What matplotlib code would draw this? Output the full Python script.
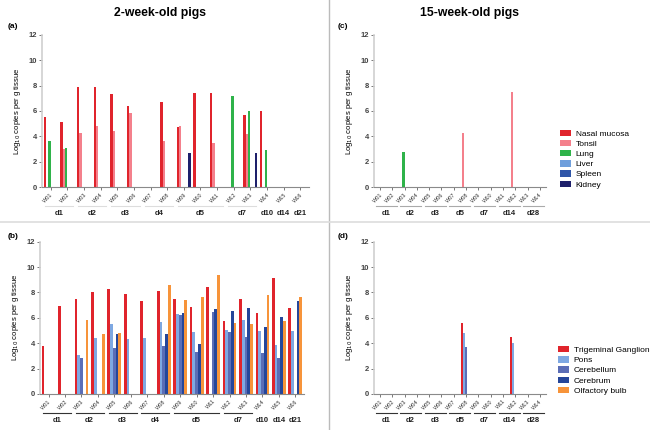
import numpy as np
import matplotlib
matplotlib.use("Agg")
import matplotlib.pyplot as plt
from matplotlib.patches import Patch
from matplotlib.lines import Line2D
import matplotlib.transforms as mtransforms

# pigs and day groups
pigs_2wk = ['W%02d' % i for i in range(1, 17)]
days_2wk = ['d1', 'd2', 'd3', 'd4', 'd5', 'd7', 'd10', 'd14', 'd21']
day_sizes_2wk = [2, 2, 2, 2, 3, 2, 1, 1, 1]

pigs_15wk = ['W%02d' % i for i in range(1, 15)]
days_15wk = ['d1', 'd2', 'd3', 'd5', 'd7', 'd14', 'd28']
day_sizes_15wk = [2, 2, 2, 2, 2, 2, 2]

# (a) 2-week-old, systemic tissues
tissues_resp = ['Nasal mucosa', 'Tonsil', 'Lung', 'Liver', 'Spleen', 'Kidney']
colors_resp = ['#e0242c', '#f4808c', '#2fb34a', '#6f9fdc', '#2f55a8', '#1e206b']
a_nasal = [5.5, 5.1, 7.9, 7.9, 7.3, 6.4, 0, 6.7, 4.7, 7.4, 7.4, 0, 5.7, 6.0, 0, 0]
a_tonsil = [0, 3.0, 4.3, 4.8, 4.4, 5.8, 0, 3.6, 4.8, 0, 3.5, 0, 4.2, 0, 0, 0]
a_lung = [3.6, 3.1, 0, 0, 0, 0, 0, 0, 0, 0, 0, 7.2, 6.0, 2.9, 0, 0]
a_liver = [0] * 16
a_spleen = [0] * 16
a_kidney = [0, 0, 0, 0, 0, 0, 0, 0, 2.7, 0, 0, 0, 2.7, 0, 0, 0]

# (c) 15-week-old, systemic tissues
c_nasal = [0] * 14
c_tonsil = [0, 0, 0, 0, 0, 0, 0, 4.3, 0, 0, 0, 7.5, 0, 0]
c_lung = [0, 0, 2.8, 0, 0, 0, 0, 0, 0, 0, 0, 0, 0, 0]
c_liver = [0] * 14
c_spleen = [0] * 14
c_kidney = [0] * 14

# (b) 2-week-old, nervous tissues
tissues_cns = ['Trigeminal Ganglion', 'Pons', 'Cerebellum', 'Cerebrum', 'Olfactory bulb']
colors_cns = ['#e0242c', '#7ea8e2', '#5b6db6', '#25469a', '#f7943a']
b_tg = [3.8, 6.9, 7.5, 8.0, 8.3, 7.9, 7.35, 8.1, 7.45, 6.85, 8.4, 5.75, 7.5, 6.4, 9.15, 6.75]
b_pons = [0, 0, 3.1, 4.4, 5.5, 4.3, 4.4, 5.7, 6.3, 4.85, 0, 5.0, 5.8, 4.95, 3.85, 4.95]
b_cerebellum = [0, 0, 2.8, 0, 3.6, 0, 0, 3.8, 6.2, 3.3, 6.45, 4.9, 4.5, 3.2, 2.8, 0]
b_cerebrum = [0, 0, 0, 0, 4.7, 0, 0, 4.7, 6.35, 3.9, 6.7, 6.55, 6.75, 5.25, 6.05, 7.35]
b_olfactory = [0, 0, 5.8, 4.7, 4.8, 0, 0, 8.55, 7.4, 7.65, 9.4, 5.6, 5.5, 7.8, 5.75, 7.6]

# (d) 15-week-old, nervous tissues
d_tg = [0, 0, 0, 0, 0, 0, 0, 5.6, 0, 0, 0, 4.5, 0, 0]
d_pons = [0, 0, 0, 0, 0, 0, 0, 4.8, 0, 0, 0, 4.0, 0, 0]
d_cerebellum = [0, 0, 0, 0, 0, 0, 0, 3.7, 0, 0, 0, 0, 0, 0]
d_cerebrum = [0] * 14
d_olfactory = [0] * 14

plt.rcParams['font.family'] = ['Liberation Sans', 'DejaVu Sans']

fig = plt.figure(figsize=(6.5, 4.3), dpi=100)


def draw_panel(rect, series, colors, pigs, days, day_sizes, line_col):
    ax = fig.add_axes(rect)
    n = len(series)
    x = np.arange(len(pigs))
    # keep thin bars at least ~2 px wide
    units_per_px = len(pigs) / (rect[2] * 650)
    step = max(0.84 / n, 2.1 * units_per_px)
    for i, (vals, col) in enumerate(zip(series, colors)):
        v = np.array(vals, dtype=float)
        ax.bar(x + (i - (n - 1) / 2) * step, v, width=step, color=col,
               linewidth=0)
    ax.set_ylim(0, 12)
    ax.set_xlim(-0.5, len(pigs) - 0.5)
    ax.set_yticks(range(0, 13, 2))
    ax.set_yticklabels([str(t) for t in range(0, 13, 2)], fontsize=5.5,
                       fontweight='bold')
    ax.set_xticks(x)
    ax.set_xticklabels(pigs, rotation=45, ha='right', fontsize=4,
                       rotation_mode='anchor')
    ax.tick_params(axis='both', length=2, width=0.5, pad=1.5, colors='#444444')
    ax.tick_params(axis='x', labelcolor='#333333')
    for s in ['top', 'right']:
        ax.spines[s].set_visible(False)
    ax.spines['left'].set_color('#cfcfcf')
    ax.spines['left'].set_linewidth(1.2)
    ax.spines['bottom'].set_color('#8a8a8a')
    ax.spines['bottom'].set_linewidth(0.8)
    ax.set_ylabel('Log$_{10}$ copies per g tissue', fontsize=5.5, labelpad=4)

    # day groups below the pig labels
    trans = mtransforms.blended_transform_factory(ax.transData, ax.transAxes)
    start = 0
    for lab, size in zip(days, day_sizes):
        x0, x1 = start - 0.35, start + size - 1 + 0.35
        if size > 1:
            ax.add_line(Line2D([x0, x1], [-0.125, -0.125], transform=trans,
                               color=line_col, lw=0.8, clip_on=False))
        ax.text((x0 + x1) / 2, -0.15, lab, transform=trans, ha='center',
                va='top', fontsize=5.5, fontweight='bold', color='#222222')
        start += size
    return ax


ax_a = draw_panel([0.065, 0.565, 0.41, 0.354],
                  [a_nasal, a_tonsil, a_lung, a_liver, a_spleen, a_kidney],
                  colors_resp, pigs_2wk, days_2wk, day_sizes_2wk, '#dddddd')
ax_c = draw_panel([0.575, 0.565, 0.265, 0.354],
                  [c_nasal, c_tonsil, c_lung, c_liver, c_spleen, c_kidney],
                  colors_resp, pigs_15wk, days_15wk, day_sizes_15wk, '#aaaaaa')
ax_b = draw_panel([0.062, 0.084, 0.405, 0.354],
                  [b_tg, b_pons, b_cerebellum, b_cerebrum, b_olfactory],
                  colors_cns, pigs_2wk, days_2wk, day_sizes_2wk, '#333333')
ax_d = draw_panel([0.575, 0.084, 0.265, 0.354],
                  [d_tg, d_pons, d_cerebellum, d_cerebrum, d_olfactory],
                  colors_cns, pigs_15wk, days_15wk, day_sizes_15wk, '#333333')

# panel letters and column titles
for lab, (px, py) in zip(['(a)', '(b)', '(c)', '(d)'],
                         [(8, 27), (8, 236), (338, 27), (338, 236)]):
    fig.text(px / 650, 1 - py / 430, lab, fontsize=6, fontweight='bold',
             va='center')
fig.text(160 / 650, 1 - 13 / 430, '2-week-old pigs', fontsize=8.8,
         fontweight='bold', ha='center', va='center')
fig.text(470 / 650, 1 - 13 / 430, '15-week-old pigs', fontsize=8.8,
         fontweight='bold', ha='center', va='center')

# separators between the panels
fig.add_artist(Line2D([329 / 650, 329 / 650], [0, 1], color='#bbbbbb', lw=1))
fig.add_artist(Line2D([0, 1], [1 - 222 / 430, 1 - 222 / 430], color='#dddddd', lw=1.2))

# legends
h1 = [Patch(facecolor=c, label=t) for t, c in zip(tissues_resp, colors_resp)]
fig.legend(handles=h1, loc='upper left', bbox_to_anchor=(0.855, 0.708),
           frameon=False, fontsize=6, handlelength=1.3, handleheight=0.8,
           labelspacing=0.25, handletextpad=0.6, borderpad=0)
h2 = [Patch(facecolor=c, label=t) for t, c in zip(tissues_cns, colors_cns)]
fig.legend(handles=h2, loc='upper left', bbox_to_anchor=(0.852, 0.205),
           frameon=False, fontsize=6, handlelength=1.3, handleheight=0.8,
           labelspacing=0.25, handletextpad=0.6, borderpad=0)

fig.savefig('out.png', dpi=100)
